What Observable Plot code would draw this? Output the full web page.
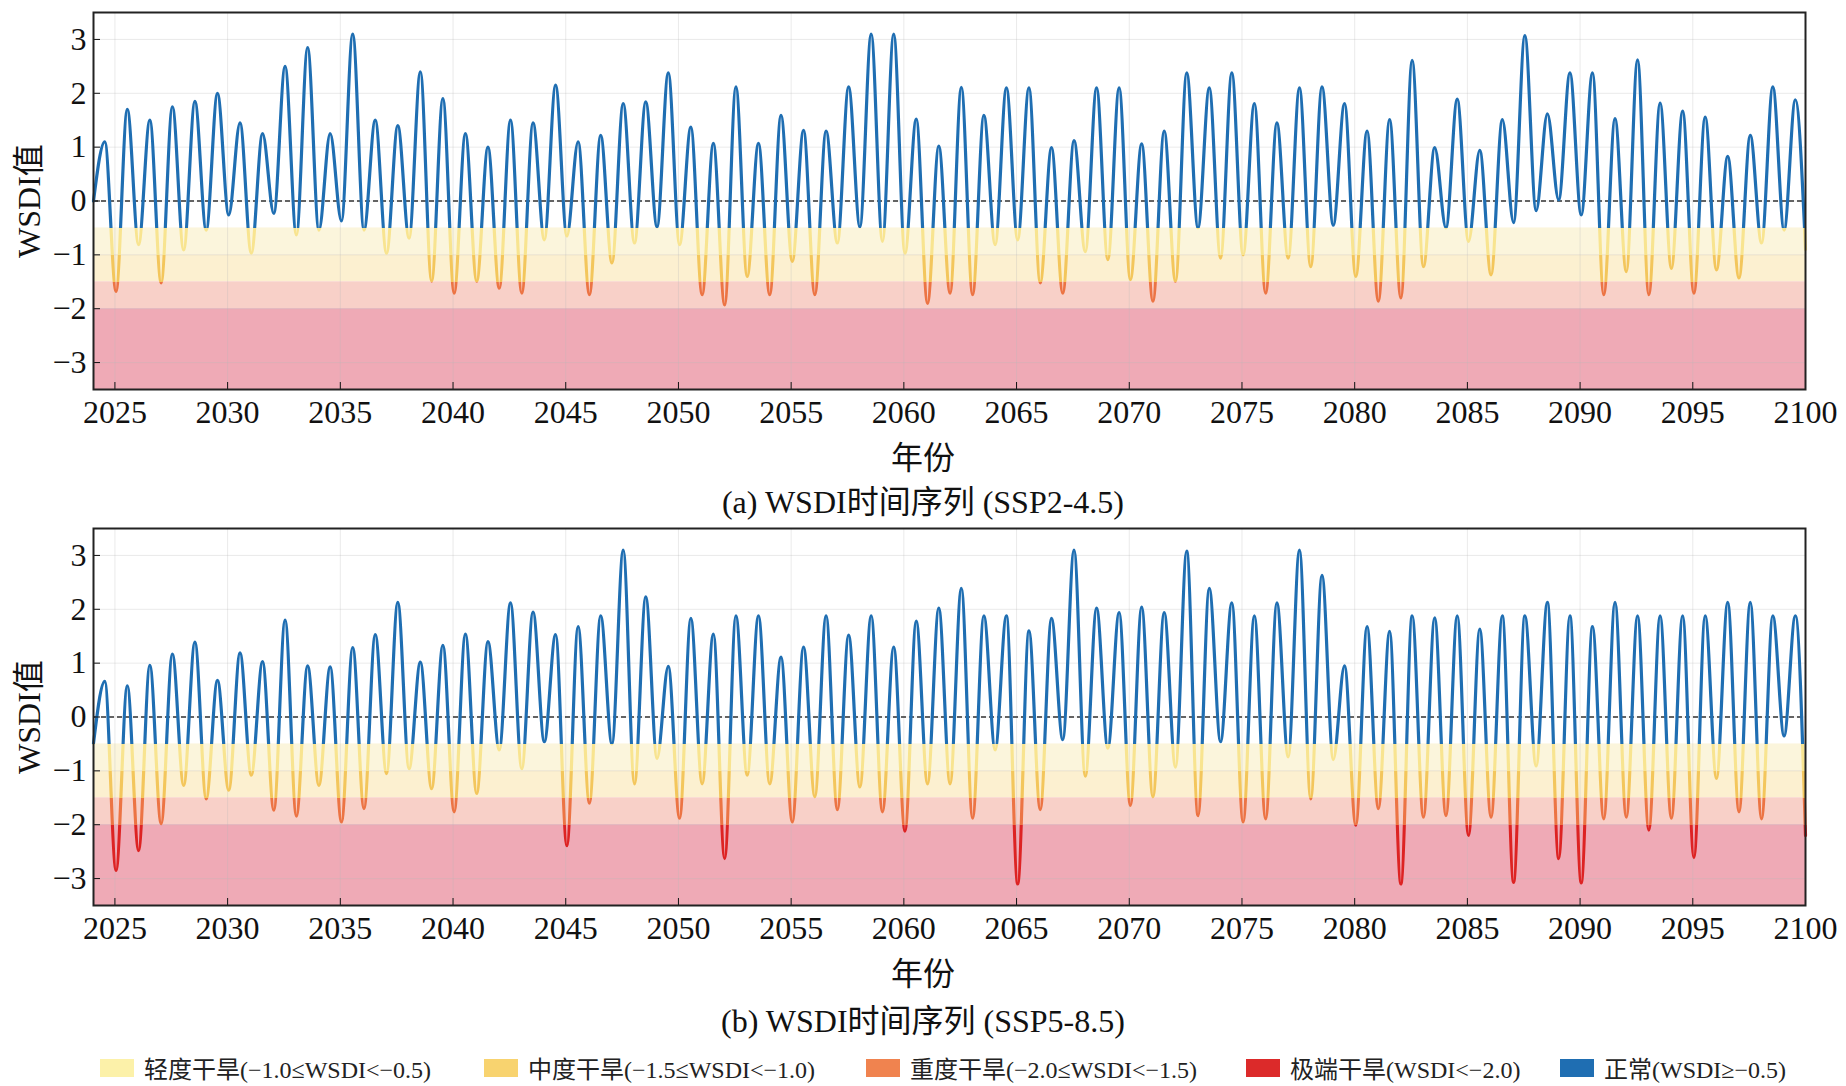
<!DOCTYPE html>
<html><head><meta charset="utf-8">
<script src="https://cdn.jsdelivr.net/npm/d3@7"></script>
<script src="https://cdn.jsdelivr.net/npm/@observablehq/plot@0.6"></script>
<style>
body{margin:0;background:#fff;font-family:"Liberation Serif","Noto Sans CJK SC",serif;}
#wrap{position:relative;width:1846px;height:1086px;}
.lab{position:absolute;left:0;width:1846px;text-align:center;color:#111;}
.leg{position:absolute;top:1050px;font-size:24px;display:flex;align-items:center;color:#222;white-space:nowrap;}
.sw{width:34px;height:18px;margin-right:10px;}
</style></head><body>
<div id="wrap"></div>
<script>
const peakYears = d3.range(2024, 2100);
const troughYears = d3.range(2024, 2101);
const peaksA = [1.1,1.7,1.5,1.75,1.85,2.0,1.45,1.25,2.5,2.85,1.25,3.1,1.5,1.4,2.4,1.9,1.25,1.0,1.5,1.45,2.15,1.1,1.22,1.81,1.84,2.38,1.37,1.07,2.12,1.07,1.59,1.31,1.3,2.12,3.1,3.1,1.52,1.02,2.11,1.59,2.1,2.1,0.99,1.12,2.1,2.1,1.06,1.3,2.38,2.1,2.38,1.81,1.45,2.1,2.12,1.81,1.3,1.51,2.61,0.99,1.89,0.94,1.51,3.07,1.62,2.38,2.38,1.53,2.62,1.82,1.67,1.56,0.83,1.22,2.12,1.88];
const troughsA = [0,-1.68,-0.81,-1.52,-0.91,-0.54,-0.26,-0.97,-0.23,-0.63,-0.54,-0.37,-0.54,-0.97,-0.69,-1.49,-1.71,-1.49,-1.62,-1.71,-0.72,-0.65,-1.74,-1.15,-0.78,-0.48,-0.81,-1.74,-1.93,-1.4,-1.74,-1.12,-1.74,-0.78,-0.48,-0.75,-0.97,-1.9,-1.71,-1.74,-0.81,-0.72,-1.52,-1.71,-0.94,-1.09,-1.46,-1.86,-1.49,-0.5,-1.06,-1.0,-1.71,-1.06,-1.22,-0.45,-1.4,-1.86,-1.8,-1.22,-0.5,-0.75,-1.37,-0.4,-0.18,0.02,-0.26,-1.74,-1.31,-1.74,-1.25,-1.71,-1.28,-1.43,-0.78,-0.54,-0.9];
const peaksB = [0.66,0.58,0.96,1.17,1.39,0.68,1.19,1.03,1.8,0.95,0.93,1.29,1.53,2.13,1.02,1.33,1.54,1.4,2.12,1.95,1.53,1.68,1.88,3.1,2.23,0.94,1.83,1.54,1.88,1.88,1.11,1.3,1.88,1.52,1.88,1.3,1.78,2.02,2.39,1.88,1.88,1.6,1.83,3.1,2.02,1.94,2.04,1.94,3.08,2.39,2.12,1.88,2.12,3.1,2.63,0.95,1.68,1.59,1.88,1.84,1.88,1.63,1.88,1.88,2.13,1.88,1.68,2.13,1.88,1.88,1.88,1.88,2.13,2.13,1.88,1.88];
const troughsB = [-0.49,-2.85,-2.48,-1.98,-1.27,-1.52,-1.36,-1.08,-1.73,-1.84,-1.27,-1.95,-1.7,-1.05,-0.96,-1.33,-1.76,-1.42,-0.61,-0.96,-0.46,-2.39,-1.6,-0.5,-1.24,-0.77,-1.88,-1.24,-2.63,-1.08,-1.24,-1.95,-1.48,-1.72,-1.3,-1.76,-2.12,-1.24,-1.24,-1.88,-0.61,-3.1,-1.72,-0.42,-1.1,-0.58,-1.64,-1.48,-0.93,-1.83,-0.46,-1.95,-1.89,-0.74,-1.52,-0.79,-2.01,-1.7,-3.1,-1.86,-1.83,-2.2,-1.86,-3.07,-0.91,-2.63,-3.08,-1.89,-1.86,-2.1,-1.88,-2.61,-1.14,-1.76,-1.89,-0.35,-2.2];
const xTicks = d3.range(2025, 2101, 5);
const yTicks = [-3,-2,-1,0,1,2,3];
const bands = [
  {y1:-0.5,y2:-1.0,fill:"#fbf5dc"},
  {y1:-1.0,y2:-1.5,fill:"#fcf0d0"},
  {y1:-1.5,y2:-2.0,fill:"#f8d0c8"},
  {y1:-2.0,y2:-3.5,fill:"#efaab6"}];
const legendItems = [
  {label:"轻度干旱(−1.0≤WSDI<−0.5)", color:"#fcf1a9", left:100},
  {label:"中度干旱(−1.5≤WSDI<−1.0)", color:"#f8d36f", left:484},
  {label:"重度干旱(−2.0≤WSDI<−1.5)", color:"#f0834f", left:866},
  {label:"极端干旱(WSDI<−2.0)", color:"#dc2a2a", left:1246},
  {label:"正常(WSDI≥−0.5)", color:"#1f6eb2", left:1560}];
const X0 = 2024.05, X1 = 2100;

function series(peaks, troughs){
  const pts = [];
  troughYears.forEach((yr,i)=>{
    pts.push({t: Math.min(X1, Math.max(X0, yr+0.05)), v: troughs[i]});
    if (i < peakYears.length) pts.push({t: peakYears[i]+0.55, v: peaks[i]});
  });
  return pts;
}

function panel(peaks, troughs, id){
  const data = series(peaks, troughs);
  const svg = Plot.plot({
    width:1846, height:429, marginTop:12, marginBottom:40, marginLeft:93, marginRight:41,
    style:{fontFamily:"Liberation Serif, Noto Sans CJK SC, serif", fontSize:"32px", color:"#111", background:"transparent", overflow:"visible"},
    x:{domain:[X0,X1]}, y:{domain:[-3.5,3.5]},
    marks:[
      Plot.rect(bands,{x1:X0,x2:X1,y1:"y1",y2:"y2",fill:"fill"}),
      Plot.gridX(xTicks,{stroke:"#bbb",strokeOpacity:0.3}),
      Plot.gridY(yTicks,{stroke:"#bbb",strokeOpacity:0.3}),
      Plot.ruleY([0],{stroke:"#333",strokeWidth:1.3,strokeDasharray:"5,3"}),
      Plot.line(data,{x:"t",y:"v",curve:"monotone-x",stroke:"#1f6eb2",strokeWidth:3.2,className:"wline"+id}),
      Plot.axisX({ticks:xTicks,tickFormat:d=>String(d),tickSize:-7,tickPadding:18,label:null,fontSize:32}),
      Plot.axisY({ticks:yTicks,tickFormat:d=>d<0?"−"+(-d):String(d),tickSize:-7,tickPadding:14,label:"WSDI值",labelAnchor:"center",labelArrow:"none",labelOffset:76,fontSize:32}),
      Plot.frame({stroke:"#222",strokeWidth:2})
    ]
  });
  const ys = svg.scale("y");
  const g = d3.select(svg);
  const defs = g.insert("defs",":first-child");
  const grad = defs.append("linearGradient").attr("id","grad"+id).attr("gradientUnits","userSpaceOnUse")
    .attr("x1",0).attr("x2",0).attr("y1",ys.apply(3.5)).attr("y2",ys.apply(-3.5));
  const top = ys.apply(3.5), bot = ys.apply(-3.5);
  const off = v => (ys.apply(v)-top)/(bot-top);
  const stops = [[3.5,"#1f6eb2"],[-0.5,"#1f6eb2"],[-0.5,"#f8e490"],[-1.0,"#f8e490"],[-1.0,"#f3c65c"],[-1.5,"#f3c65c"],[-1.5,"#ec7444"],[-2.0,"#ec7444"],[-2.0,"#dd2323"],[-3.5,"#dd2323"]];
  stops.forEach(([v,c])=>grad.append("stop").attr("offset",off(v)).attr("stop-color",c));
  g.selectAll(".wline"+id+" path").attr("stroke","url(#grad"+id+")");
  return svg;
}

const wrap = document.getElementById("wrap");
function place(el, top){ el.style.position="absolute"; el.style.left="0"; el.style.top=top+"px"; wrap.appendChild(el); }
place(panel(peaksA, troughsA, "a"), 0);
place(panel(peaksB, troughsB, "b"), 516);
function label(text, top, size){ const d=document.createElement("div"); d.className="lab"; d.textContent=text; d.style.top=top+"px"; d.style.fontSize=size+"px"; wrap.appendChild(d); }
label("年份", 432, 32);
label("(a) WSDI时间序列 (SSP2-4.5)", 476, 32);
label("年份", 948, 32);
label("(b) WSDI时间序列 (SSP5-8.5)", 995, 32);
legendItems.forEach(it=>{
  const d=document.createElement("div"); d.className="leg"; d.style.left=it.left+"px";
  const s=document.createElement("div"); s.className="sw"; s.style.background=it.color; d.appendChild(s);
  const t=document.createElement("span"); t.textContent=it.label; d.appendChild(t);
  wrap.appendChild(d);
});
</script></body></html>
